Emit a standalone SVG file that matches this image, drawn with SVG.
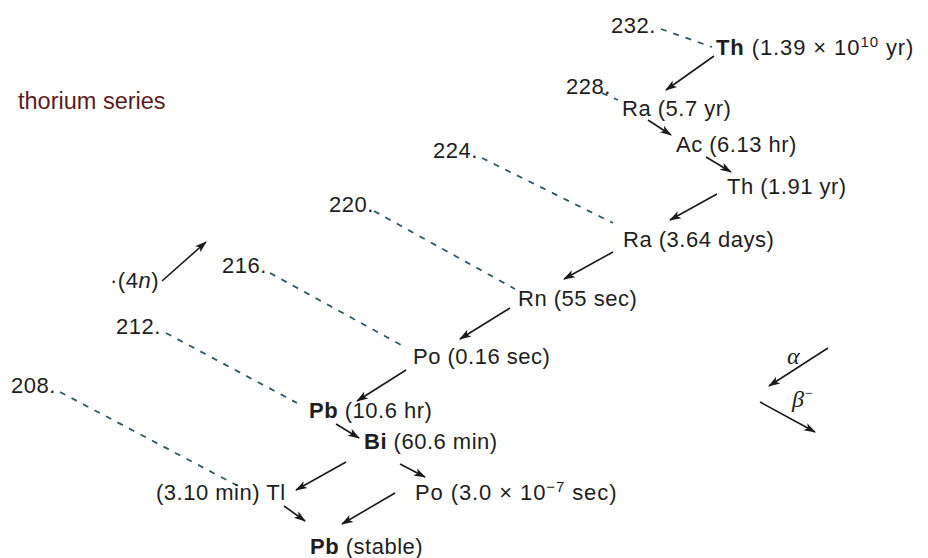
<svg xmlns="http://www.w3.org/2000/svg" width="928" height="558" viewBox="0 0 928 558">
<defs>
<marker id="ah" viewBox="0 0 12 10" refX="11" refY="5" markerWidth="12" markerHeight="10" orient="auto" markerUnits="userSpaceOnUse">
<path d="M0,1 L12,5 L0,9 L3,5 Z" fill="#1a1a1a"/>
</marker>
</defs>
<style>
text{font-family:"Liberation Sans",Arial,sans-serif;font-size:22px;letter-spacing:0.5px;fill:#1e1e22}
.b{font-weight:bold}
.dash{stroke:#2f5866;stroke-width:1.8;stroke-dasharray:6 7;fill:none}
.arr{stroke:#1a1a1a;stroke-width:1.6;fill:none;marker-end:url(#ah)}
.sup{font-size:15px}
.wide{letter-spacing:0.9px}
.title{fill:#5a1c22;font-size:23.5px;letter-spacing:0}
.gr{font-family:"Liberation Serif",serif;font-style:italic;font-size:24px}
</style>
<rect width="928" height="558" fill="#ffffff"/>
<text class="title" x="18" y="109">thorium series</text>
<g id="connectors">
<line class="dash" x1="661" y1="29" x2="712" y2="47"/>
<line class="dash" x1="602" y1="93" x2="618" y2="100"/>
<line class="dash" x1="482" y1="158" x2="613" y2="223"/>
<line class="dash" x1="374" y1="211" x2="515" y2="289"/>
<line class="dash" x1="270" y1="273" x2="403" y2="346"/>
<line class="dash" x1="166" y1="333" x2="297" y2="403"/>
<line class="dash" x1="60" y1="392" x2="240" y2="487"/>
<line class="arr" x1="714" y1="56" x2="666" y2="90"/>
<line class="arr" x1="648" y1="120" x2="671" y2="135"/>
<line class="arr" x1="706" y1="157" x2="731" y2="172"/>
<line class="arr" x1="717" y1="194" x2="670" y2="220"/>
<line class="arr" x1="613" y1="252" x2="564" y2="279"/>
<line class="arr" x1="510" y1="308" x2="460" y2="339"/>
<line class="arr" x1="406" y1="370" x2="357" y2="401"/>
<line class="arr" x1="336" y1="424" x2="359" y2="438"/>
<line class="arr" x1="346" y1="462" x2="296" y2="490"/>
<line class="arr" x1="400" y1="464" x2="425" y2="477"/>
<line class="arr" x1="284" y1="506" x2="305" y2="521"/>
<line class="arr" x1="395" y1="493" x2="342" y2="524"/>
<line class="arr" x1="162" y1="281" x2="206" y2="242"/>
<line class="arr" x1="828" y1="348" x2="769" y2="386"/>
<line class="arr" x1="760" y1="402" x2="815" y2="432"/>
</g>
<g id="mass-numbers">
<text x="611" y="33">232.</text>
<text x="566" y="94">228.</text>
<text x="433" y="158">224.</text>
<text x="329" y="212">220.</text>
<text x="222" y="273">216.</text>
<text x="116" y="334">212.</text>
<text x="11" y="393">208.</text>
<text x="110" y="288">·(4<tspan font-style="italic">n</tspan>)</text>
</g>
<g id="Th232"><text class="wide" x="716" y="55"><tspan class="b">Th</tspan> (1.39 × 10<tspan class="sup" dy="-8">10</tspan><tspan dy="8"> yr)</tspan></text></g>
<g id="Ra228"><text x="622" y="116">Ra (5.7 yr)</text></g>
<g id="Ac228"><text x="676" y="152">Ac (6.13 hr)</text></g>
<g id="Th228"><text x="727" y="194">Th (1.91 yr)</text></g>
<g id="Ra224"><text x="623" y="247">Ra (3.64 days)</text></g>
<g id="Rn220"><text x="518" y="306">Rn (55 sec)</text></g>
<g id="Po216"><text x="413" y="364">Po (0.16 sec)</text></g>
<g id="Pb212"><text x="309" y="418"><tspan class="b">Pb</tspan> (10.6 hr)</text></g>
<g id="Bi212"><text x="364" y="449"><tspan class="b">Bi</tspan> (60.6 min)</text></g>
<g id="Tl208"><text x="156" y="500">(3.10 min) Tl</text></g>
<g id="Po212"><text class="wide" x="415" y="500">Po (3.0 × 10<tspan class="sup" dy="-8">−7</tspan><tspan dy="8"> sec)</tspan></text></g>
<g id="Pb208"><text x="310" y="554"><tspan class="b">Pb</tspan> (stable)</text></g>
<g id="legend">
<text class="gr" x="787" y="364">α</text>
<text class="gr" x="792" y="407">β<tspan class="sup" dy="-9" font-style="normal">−</tspan></text>
</g>
</svg>
